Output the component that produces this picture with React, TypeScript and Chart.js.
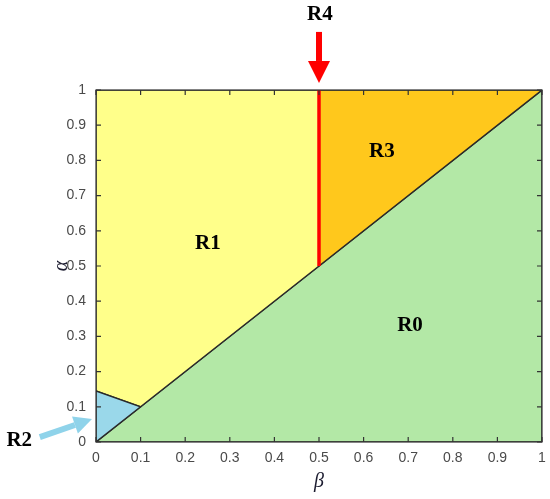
import React, { useEffect, useRef } from "react";
import { Chart, registerables } from "chart.js";

Chart.register(...registerables);

// Region polygons in (beta, alpha) data coordinates
const regionR0 = [[0, 0], [1, 0], [1, 1], [0, 0]];
const regionR1 = [[0, 0.145], [0, 1], [0.5, 1], [0.5, 0.5], [0.1, 0.1], [0, 0.145]];
const regionR2 = [[0, 0], [0, 0.145], [0.1, 0.1], [0, 0]];
const regionR3 = [[0.5, 0.5], [0.5, 1], [1, 1], [0.5, 0.5]];
const lineR4 = [[0.5, 0.5], [0.5, 1]];

const regionLabels = ["R0", "R1", "R2", "R3", "R4"];
const labelPositions = [[0.704, 0.33], [0.251, 0.565], [-0.172, 0.003], [0.641, 0.824], [0.502, 1.213]];
const arrowR4 = [[0.5, 1.165], [0.5, 1.02]];
const arrowR2 = [[-0.126, 0.014], [-0.009, 0.065]];

const tickValues = [0, 0.1, 0.2, 0.3, 0.4, 0.5, 0.6, 0.7, 0.8, 0.9, 1];

const toPts = (a: number[][]) => a.map(([x, y]) => ({ x, y }));

export default function App() {
  const ref = useRef<HTMLCanvasElement | null>(null);
  useEffect(() => {
    document.body.style.margin = "0";
    const canvas = ref.current!;
    const drawArrow = (ctx: any, x1: number, y1: number, x2: number, y2: number, color: string, shaft: number, headW: number, headL: number) => {
      const ang = Math.atan2(y2 - y1, x2 - x1);
      const bx = x2 - headL * Math.cos(ang);
      const by = y2 - headL * Math.sin(ang);
      ctx.save();
      ctx.strokeStyle = color;
      ctx.fillStyle = color;
      ctx.lineWidth = shaft;
      ctx.lineCap = "butt";
      ctx.beginPath();
      ctx.moveTo(x1, y1);
      ctx.lineTo(bx, by);
      ctx.stroke();
      const px = -Math.sin(ang), py = Math.cos(ang);
      ctx.beginPath();
      ctx.moveTo(x2, y2);
      ctx.lineTo(bx + px * headW / 2, by + py * headW / 2);
      ctx.lineTo(bx - px * headW / 2, by - py * headW / 2);
      ctx.closePath();
      ctx.fill();
      ctx.restore();
    };
    const plugin = {
      id: "deco",
      afterDatasetsDraw(chart: any) {
        const { ctx, chartArea: a, scales } = chart;
        const xs = scales.x, ys = scales.y;
        const X = (v: number) => xs.getPixelForValue(v);
        const Y = (v: number) => ys.getPixelForValue(v);
        ctx.save();
        // box
        ctx.strokeStyle = "#333";
        ctx.lineWidth = 1.2;
        ctx.strokeRect(a.left, a.top, a.right - a.left, a.bottom - a.top);
        // inward ticks on all sides
        ctx.beginPath();
        const tl = 5;
        tickValues.forEach((v) => {
          const px = X(v), py = Y(v);
          ctx.moveTo(px, a.bottom); ctx.lineTo(px, a.bottom - tl);
          ctx.moveTo(px, a.top); ctx.lineTo(px, a.top + tl);
          ctx.moveTo(a.left, py); ctx.lineTo(a.left + tl, py);
          ctx.moveTo(a.right, py); ctx.lineTo(a.right - tl, py);
        });
        ctx.stroke();
        // region labels
        ctx.fillStyle = "#000";
        ctx.font = "bold 21px 'Liberation Serif', 'Times New Roman', serif";
        ctx.textAlign = "center";
        ctx.textBaseline = "middle";
        regionLabels.forEach((t, i) => {
          ctx.fillText(t, X(labelPositions[i][0]), Y(labelPositions[i][1]));
        });
        // axis titles
        ctx.fillStyle = "#1c1c30";
        ctx.font = "italic 20px 'Liberation Serif', serif";
        ctx.fillText("\u03b2", (a.left + a.right) / 2, a.bottom + 40);
        ctx.save();
        ctx.translate(a.left - 34, (a.top + a.bottom) / 2);
        ctx.rotate(-Math.PI / 2);
        ctx.fillText("\u03b1", 0, 0);
        ctx.restore();
        // arrows
        drawArrow(ctx, X(arrowR4[0][0]), Y(arrowR4[0][1]), X(arrowR4[1][0]), Y(arrowR4[1][1]), "#ff0000", 6, 22, 22);
        drawArrow(ctx, X(arrowR2[0][0]), Y(arrowR2[0][1]), X(arrowR2[1][0]), Y(arrowR2[1][1]), "#8fd3ea", 6, 18, 18);
        ctx.restore();
      },
    };
    const poly = (data: number[][], color: string, order: number) => ({
      data: toPts(data),
      showLine: true,
      fill: "shape",
      backgroundColor: color,
      borderColor: "#2a2a2a",
      borderWidth: 1.4,
      pointRadius: 0,
      tension: 0,
      order,
    });
    const chart = new Chart(canvas, {
      type: "scatter",
      data: {
        datasets: [
          poly(regionR0, "#b3e8a6", 5),
          poly(regionR1, "#ffff8a", 4),
          poly(regionR2, "#9ad8ea", 3),
          poly(regionR3, "#ffc81c", 2),
          {
            data: toPts(lineR4),
            showLine: true,
            fill: false,
            borderColor: "#ff0000",
            borderWidth: 3.5,
            pointRadius: 0,
            order: 0,
          } as any,
        ] as any,
      },
      plugins: [plugin],
      options: {
        animation: false,
        responsive: false,
        maintainAspectRatio: false,
        layout: { padding: { top: 90, right: 8, left: 0, bottom: 0 } },
        plugins: { legend: { display: false }, tooltip: { enabled: false } },
        scales: {
          x: {
            type: "linear",
            min: 0,
            max: 1,
            afterFit: (s: any) => { s.height = 57; s.paddingRight = 0; s.paddingLeft = 0; },
            afterBuildTicks: (s: any) => { s.ticks = tickValues.map((v) => ({ value: v })); },
            grid: { display: false, drawTicks: false },
            border: { display: false },
            ticks: {
              padding: 8,
              color: "#4a4a4a",
              font: { family: "'Liberation Sans', Arial, sans-serif", size: 14 },
              callback: (v: any) => String(Number(Number(v).toFixed(1))),
              maxRotation: 0,
            },
          },
          y: {
            type: "linear",
            min: 0,
            max: 1,
            afterFit: (s: any) => { s.width = 96; s.paddingTop = 0; s.paddingBottom = 0; },
            afterBuildTicks: (s: any) => { s.ticks = tickValues.map((v) => ({ value: v })); },
            grid: { display: false, drawTicks: false },
            border: { display: false },
            ticks: {
              padding: 10,
              color: "#4a4a4a",
              font: { family: "'Liberation Sans', Arial, sans-serif", size: 14 },
              callback: (v: any) => String(Number(Number(v).toFixed(1))),
            },
          },
        },
      } as any,
    });
    return () => chart.destroy();
  }, []);
  return (
    <div style={{ width: 550, height: 499, background: "#fff" }}>
      <canvas ref={ref} width={550} height={499} style={{ display: "block" }} />
    </div>
  );
}
